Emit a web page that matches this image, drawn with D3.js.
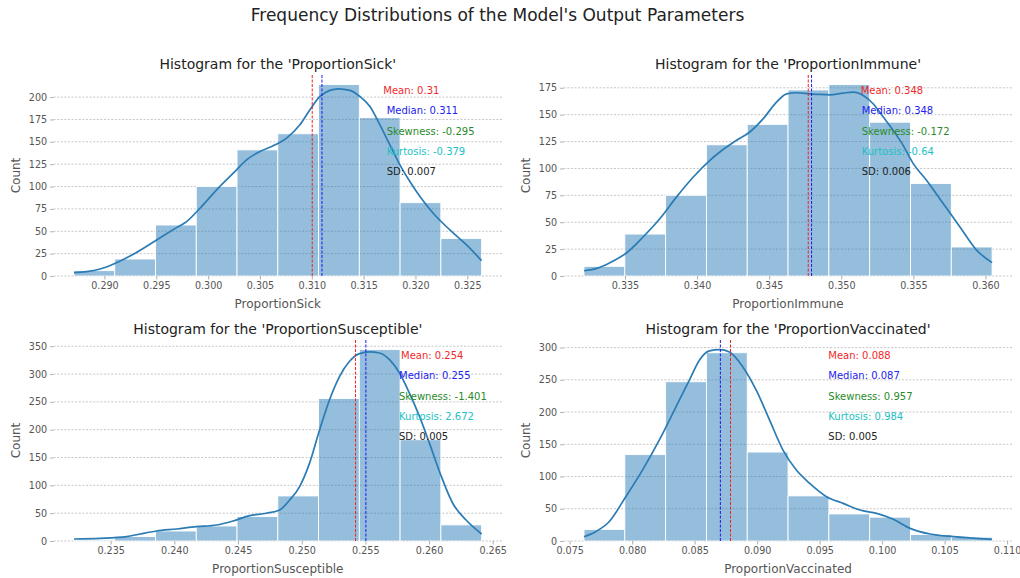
<!DOCTYPE html>
<html><head><meta charset="utf-8">
<script src="https://cdn.jsdelivr.net/npm/d3@7"></script>
<style>
body{margin:0;background:#fff}
svg{display:block}
text{font-family:"DejaVu Sans",sans-serif}
</style>
</head><body>
<svg id="chart" width="1020" height="578"></svg>
<script>
// ---------- data ----------
const chartTitle = "Frequency Distributions of the Model's Output Parameters";
const categories = ["ProportionSick", "ProportionImmune", "ProportionSusceptible", "ProportionVaccinated"];

const sickCounts = [6, 19, 57, 100, 141, 159, 214, 177, 82, 42];
const sickRange = [0.28706, 0.32638];
const sickKdeX = [0.28706,0.28828,0.28957,0.29117,0.29278,0.29503,0.29696,0.29792,0.29921,0.30082,0.30242,0.30371,0.30500,0.30628,0.30757,0.30885,0.30982,0.31078,0.31175,0.31255,0.31368,0.31464,0.31561,0.31657,0.31753,0.31850,0.31946,0.32043,0.32171,0.32332,0.32493,0.32637];
const sickKdeY = [3.7,4.9,7.8,14.9,24.3,40.3,54.1,60.8,75.7,96.3,114.9,129.9,139.2,145.5,154.1,169.0,185.8,200.7,207.5,209.3,207.5,200.7,189.6,169.0,146.6,124.3,105.6,88.8,70.1,51.5,34.7,17.2];
const sickMeanMedian = [0.31004, 0.31098];
const sickXTicks = [0.290, 0.295, 0.300, 0.305, 0.310, 0.315, 0.320, 0.325];
const sickYTicks = [0, 25, 50, 75, 100, 125, 150, 175, 200];
const sickStats = ["Mean: 0.31", "Median: 0.311", "Skewness: -0.295", "Kurtosis: -0.379", "SD: 0.007"];

const immuneCounts = [9, 39, 75, 122, 141, 173, 178, 143, 86, 27];
const immuneRange = [0.33216, 0.36046];
const immuneKdeX = [0.33216,0.33304,0.33396,0.33512,0.33627,0.33743,0.33858,0.33974,0.34089,0.34158,0.34274,0.34366,0.34459,0.34551,0.34621,0.34690,0.34782,0.34852,0.34921,0.35013,0.35083,0.35152,0.35221,0.35291,0.35360,0.35429,0.35499,0.35591,0.35707,0.35822,0.35938,0.36046];
const immuneKdeY = [4.9,7.1,12.4,21.6,36.5,53.5,73.6,92.1,107.6,115.3,126.2,133.9,146.3,161.7,169.4,170.4,169.4,168.8,168.5,170.1,171.0,167.9,160.2,147.8,135.4,121.5,104.5,89.1,67.4,45.8,24.1,12.4];
const immuneMeanMedian = [0.34771, 0.34794];
const immuneXTicks = [0.335, 0.340, 0.345, 0.350, 0.355, 0.360];
const immuneYTicks = [0, 25, 50, 75, 100, 125, 150, 175];
const immuneStats = ["Mean: 0.348", "Median: 0.348", "Skewness: -0.172", "Kurtosis: -0.64", "SD: 0.006"];

const susCounts = [2, 8, 18, 27, 44, 81, 256, 344, 182, 29];
const susRange = [0.23212, 0.26413];
const susKdeX = [0.23212,0.23416,0.23625,0.23730,0.23860,0.24017,0.24174,0.24331,0.24461,0.24592,0.24723,0.24827,0.24906,0.24984,0.25062,0.25141,0.25219,0.25298,0.25376,0.25454,0.25533,0.25611,0.25690,0.25768,0.25846,0.25925,0.26003,0.26087,0.26186,0.26291,0.26413];
const susKdeY = [3.6,4.8,7.8,12.6,18.0,21.6,25.8,28.8,36.0,45.6,49.8,55.8,73.8,97.8,139.9,199.9,253.9,295.9,322.9,336.7,339.7,337.9,325.9,301.9,265.9,223.9,175.9,121.8,67.8,37.8,12.6];
const susMeanMedian = [0.25423, 0.25504];
const susXTicks = [0.235, 0.240, 0.245, 0.250, 0.255, 0.260, 0.265];
const susYTicks = [0, 50, 100, 150, 200, 250, 300, 350];
const susStats = ["Mean: 0.254", "Median: 0.255", "Skewness: -1.401", "Kurtosis: 2.672", "SD: 0.005"];

const vacCounts = [18, 134, 247, 292, 138, 70, 42, 37, 10, 6];
const vacRange = [0.07615, 0.10880];
const vacKdeX = [0.07615,0.07708,0.07816,0.07949,0.08083,0.08217,0.08351,0.08458,0.08538,0.08618,0.08699,0.08779,0.08886,0.08993,0.09100,0.09207,0.09314,0.09421,0.09555,0.09689,0.09822,0.09956,0.10090,0.10224,0.10384,0.10572,0.10879];
const vacKdeY = [6.7,14.5,29.9,68.7,110.0,156.4,208.1,249.4,280.3,294.8,296.9,293.2,270.0,233.9,187.4,140.9,110.0,89.3,68.7,58.3,48.0,42.8,33.6,19.6,10.8,6.7,2.6];
const vacMeanMedian = [0.08787, 0.08706];
const vacXTicks = [0.075, 0.080, 0.085, 0.090, 0.095, 0.100, 0.105, 0.110];
const vacYTicks = [0, 50, 100, 150, 200, 250, 300];
const vacStats = ["Mean: 0.088", "Median: 0.087", "Skewness: 0.957", "Kurtosis: 0.984", "SD: 0.005"];

const statColors = ["#f02a2a", "#2222ee", "#2a8a2a", "#22bfc4", "#222222"];

// ---------- layout ----------
const panels = [
  {cat: categories[0], counts: sickCounts, range: sickRange, kx: sickKdeX, ky: sickKdeY, mm: sickMeanMedian, xt: sickXTicks, yt: sickYTicks, stats: sickStats,
   box: {x0: 53.6, x1: 502, y0: 75, y1: 276}, tx: [383.3, 386.7, 386.7, 386.7, 386.7]},
  {cat: categories[1], counts: immuneCounts, range: immuneRange, kx: immuneKdeX, ky: immuneKdeY, mm: immuneMeanMedian, xt: immuneXTicks, yt: immuneYTicks, stats: immuneStats,
   box: {x0: 563.6, x1: 1012.5, y0: 75, y1: 276}, tx: [860.7, 861.7, 861.7, 861.7, 861.7]},
  {cat: categories[2], counts: susCounts, range: susRange, kx: susKdeX, ky: susKdeY, mm: susMeanMedian, xt: susXTicks, yt: susYTicks, stats: susStats,
   box: {x0: 53.6, x1: 502, y0: 340, y1: 541}, tx: [401, 399, 399, 399, 399]},
  {cat: categories[3], counts: vacCounts, range: vacRange, kx: vacKdeX, ky: vacKdeY, mm: vacMeanMedian, xt: vacXTicks, yt: vacYTicks, stats: vacStats,
   box: {x0: 563.6, x1: 1012.5, y0: 340, y1: 541}, tx: [828.3, 828.3, 828.3, 828.3, 828.3]}
];
const statOffsets = [15.5, 35.8, 56.5, 76.5, 96.7];

const svg = d3.select("#chart");
svg.append("rect").attr("width", 1020).attr("height", 578).attr("fill", "#fff");

svg.append("text").attr("x", 497.5).attr("y", 15).attr("dy", "0.35em")
  .attr("text-anchor", "middle").attr("font-size", 17).attr("fill", "#222").text(chartTitle);

panels.forEach(p => {
  const b = p.box;
  const span = p.range[1] - p.range[0];
  const x = d3.scaleLinear().domain([p.range[0] - 0.05 * span, p.range[1] + 0.05 * span]).range([b.x0, b.x1]);
  const ymax = Math.max(d3.max(p.counts), d3.max(p.ky)) * 1.05;
  const y = d3.scaleLinear().domain([0, ymax]).range([b.y1, b.y0]);
  const g = svg.append("g");

  // grid
  g.selectAll(".grid").data(p.yt).join("line")
    .attr("x1", b.x0).attr("x2", b.x1)
    .attr("y1", d => y(d)).attr("y2", d => y(d))
    .attr("stroke", "#b8b8b8").attr("stroke-width", 0.8).attr("stroke-dasharray", "2,1.6");

  // bars
  const edges = d3.range(p.counts.length + 1).map(i => p.range[0] + i * span / p.counts.length);
  g.selectAll(".bar").data(p.counts).join("rect")
    .attr("x", (d, i) => x(edges[i])).attr("width", (d, i) => x(edges[i + 1]) - x(edges[i]))
    .attr("y", d => y(d)).attr("height", d => y(0) - y(d))
    .attr("fill", "#1f77b4").attr("fill-opacity", 0.48)
    .attr("stroke", "#ffffff").attr("stroke-width", 0.9);

  // kde
  const line = d3.line().x(d => x(d[0])).y(d => y(d[1])).curve(d3.curveMonotoneX);
  g.append("path").datum(p.kx.map((v, i) => [v, p.ky[i]]))
    .attr("d", line).attr("fill", "none").attr("stroke", "#2b7bb5").attr("stroke-width", 1.7);

  // mean / median lines
  ["#ee2222", "#1a1aee"].forEach((c, i) => {
    g.append("line").attr("x1", x(p.mm[i])).attr("x2", x(p.mm[i]))
      .attr("y1", b.y0).attr("y2", b.y1)
      .attr("stroke", c).attr("stroke-width", 1).attr("stroke-dasharray", "3,1.5");
  });

  // axes
  const xa = g.append("g").attr("transform", `translate(0,${b.y1})`)
    .call(d3.axisBottom(x).tickValues(p.xt).tickFormat(d3.format(".3f")).tickSize(3.5).tickPadding(3));
  const ya = g.append("g").attr("transform", `translate(${b.x0},0)`)
    .call(d3.axisLeft(y).tickValues(p.yt).tickFormat(d3.format("d")).tickSize(3.5).tickPadding(3));
  [xa, ya].forEach(a => {
    a.select(".domain").remove();
    a.selectAll(".tick line").attr("stroke", "#999").attr("stroke-width", 0.8);
    a.selectAll(".tick text").attr("fill", "#555").attr("font-size", 9.6).attr("font-family", "DejaVu Sans");
  });

  // labels
  g.append("text").attr("x", (b.x0 + b.x1) / 2).attr("y", b.y1 + 27.3).attr("dy", "0.35em")
    .attr("text-anchor", "middle").attr("font-size", 12).attr("fill", "#555").text(p.cat);
  g.append("text").attr("transform", `translate(${b.x0 - 37.6},${(b.y0 + b.y1) / 2}) rotate(-90)`)
    .attr("dy", "0.35em").attr("text-anchor", "middle").attr("font-size", 12).attr("fill", "#555").text("Count");
  g.append("text").attr("x", (b.x0 + b.x1) / 2).attr("y", b.y0 - 11).attr("dy", "0.35em")
    .attr("text-anchor", "middle").attr("font-size", 14).attr("fill", "#222")
    .text(`Histogram for the '${p.cat}'`);

  // stats text
  p.stats.forEach((s, i) => {
    g.append("text").attr("x", p.tx[i]).attr("y", b.y0 + statOffsets[i]).attr("dy", "0.35em")
      .attr("font-size", 10).attr("fill", statColors[i]).text(s);
  });
});
</script>
</body></html>
